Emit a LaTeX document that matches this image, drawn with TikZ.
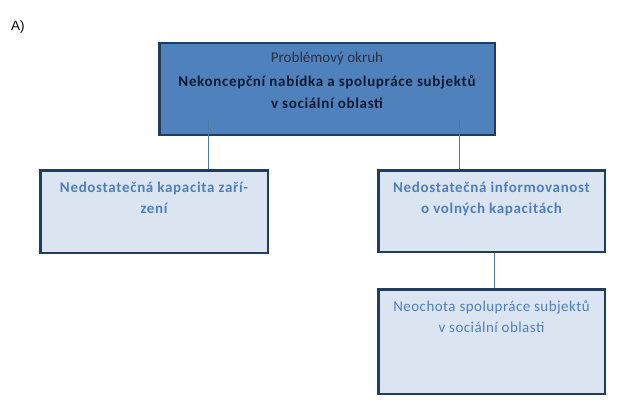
\documentclass[tikz,border=0pt]{standalone}
\usepackage{fontspec}
\setmainfont{Carlito}
\newfontfamily\arialfont{Liberation Sans}
\usepackage{xcolor}

\definecolor{topfill}{HTML}{4F81BD}
\definecolor{boxline}{HTML}{243C5C}
\definecolor{lowfill}{HTML}{DBE5F1}
\definecolor{lowtext}{HTML}{4F7FBA}
\definecolor{titletext}{HTML}{0E1B33}
\definecolor{connline}{HTML}{4C77A6}

% text placed at the top of a box of fixed size: height, width, first baseline, text
\newcommand{\boxtext}[4]{\parbox[c][#1][t]{#2}{\centering\fontsize{15}{21.5}\selectfont\rule{0pt}{#3}#4\par}}
\newcommand{\widebold}{\bfseries\addfontfeature{LetterSpace=4.5}}

\begin{document}
\begin{tikzpicture}[x=1pt,y=1pt]
		\tikzstyle{every node}+=[inner sep=0pt]
		\tikzstyle{orgbox}=[draw=boxline, line width=2.5pt, rectangle, fill=lowfill]
		\tikzstyle{conn}=[draw=connline, line width=0.8pt]
		\useasboundingbox (0,0) rectangle (623,-412);
		\fill [white] (0,0) rectangle (623,-412);
		\node (label) [anchor=base west] at (11,-31) {\arialfont\fontsize{13.5}{16}\selectfont A)};
		\node [orgbox, fill=topfill] (topbox) at (327,-89) {\boxtext{91.5pt}{335.5pt}{19pt}{%
			\textcolor{titletext!90!white}{Problémový okruh}\\[3pt]
			\textcolor{titletext}{\widebold Nekoncepční nabídka a spolupráce subjektů}\\
			\textcolor{titletext}{\widebold v sociální oblasti}}};
		\node [orgbox] (kapbox) at (154,-211.5) {\boxtext{82.5pt}{227.5pt}{22pt}{\color{lowtext}\widebold
			Nedostatečná kapacita zaří-\\zení}};
		\node [orgbox] (infbox) at (491.5,-211) {\boxtext{81.5pt}{226.5pt}{22pt}{\color{lowtext}\widebold
			Nedostatečná informovanost\\o volných kapacitách}};
		\node [orgbox] (neobox) at (491.5,-341.5) {\boxtext{104.5pt}{226.5pt}{22pt}{\color{lowtext}\addfontfeature{LetterSpace=3}
			Neochota spolupráce subjektů\\v sociální oblasti}};
		\coordinate (kapstart) at (208,-120);
		\coordinate (infstart) at (459,-120);
		\draw [conn] (kapstart) -- (kapstart |- kapbox.north);
		\draw [conn] (infstart) -- (infstart |- infbox.north);
		\draw [conn] ([xshift=2.5pt]infbox.south) -- ([xshift=2.5pt]neobox.north);
	\end{tikzpicture}
\end{document}
